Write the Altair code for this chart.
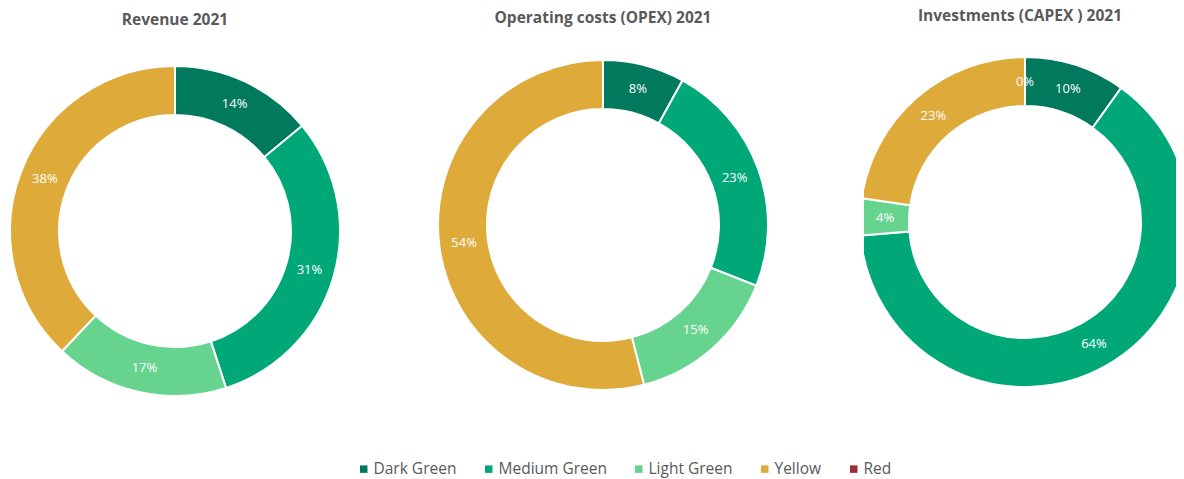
import altair as alt
import pandas as pd

categories = ["Dark Green", "Medium Green", "Light Green", "Yellow", "Red"]
colors = ["#00795C", "#00A878", "#66D38E", "#DEAA3A", "#9B2D30"]
titles = ["Revenue 2021", "Operating costs (OPEX) 2021", "Investments (CAPEX ) 2021"]
revenue = [14, 31, 17, 38, None]
opex = [8, 23, 15, 54, None]
capex = [9.9, 63.8, 3.6, 22.7, 0.0]

FONT = "Open Sans"


def donut(values, title, w, h, dy, cx=None):
    rows = [
        {"category": c, "value": v, "order": i}
        for i, (c, v) in enumerate(zip(categories, values))
        if v is not None
    ]
    df = pd.DataFrame(rows)
    df["share"] = df["value"] / df["value"].sum()
    enc = dict(
        theta=alt.Theta("value:Q", stack=True),
        order=alt.Order("order:Q"),
    )
    if cx is not None:
        enc["x"] = alt.value(cx)
    base = alt.Chart(df).encode(**enc)
    arc = base.mark_arc(
        outerRadius=165, innerRadius=116, stroke="white", strokeWidth=2, clip=True
    ).encode(
        color=alt.Color(
            "category:N",
            scale=alt.Scale(domain=categories, range=colors),
            legend=alt.Legend(
                title=None,
                orient="none",
                direction="horizontal",
                legendX=348,
                legendY=426,
                offset=0,
                padding=0,
                symbolType="square",
                symbolSize=56,
                symbolStrokeWidth=0,
                labelFontSize=15.5,
                labelFont=FONT,
                labelColor="#595959",
                labelOffset=2,
                columnPadding=24,
            ),
        )
    )
    text = base.mark_text(radius=140, fontSize=13, color="white", font=FONT).encode(
        text=alt.Text("share:Q", format=".0%")
    )
    return alt.layer(arc, text).properties(
        width=w,
        height=h,
        title=alt.TitleParams(
            title,
            fontSize=15.5,
            fontWeight="bold",
            font=FONT,
            color="#595959",
            anchor="middle",
            offset=8,
            dy=dy,
        ),
    )


c1 = donut(revenue, titles[0], 334, 392, 1)
c2 = donut(opex, titles[1], 334, 380, -1)
c3 = donut(capex, titles[2], 312, 374, -3, cx=161)

chart = (
    alt.hconcat(c1, c2, c3, spacing=94)
    .properties(padding=0, bounds="flush")
    .configure_view(stroke=None)
)

chart.save("out.html", embed_options={"renderer": "svg", "actions": False})
